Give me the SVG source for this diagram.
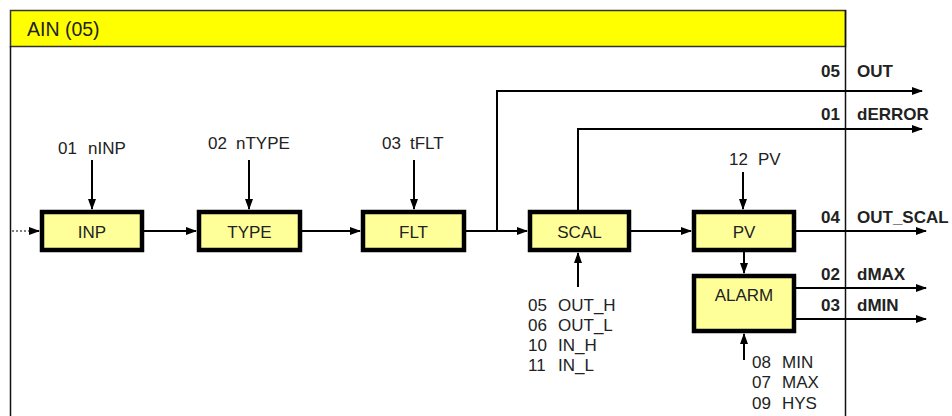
<svg xmlns="http://www.w3.org/2000/svg" width="952" height="416" viewBox="0 0 952 416">
<defs>
<marker id="ah" markerWidth="11" markerHeight="8" refX="10" refY="4" orient="auto" markerUnits="userSpaceOnUse">
<path d="M0,0 L11,4 L0,8 z" fill="#000"/>
</marker>
<style>
.t{font-family:"Liberation Sans",Arial,sans-serif;font-size:17px;fill:#222}
.b{font-family:"Liberation Sans",Arial,sans-serif;font-size:17px;font-weight:bold;fill:#222}
.c{text-anchor:middle}
.e{text-anchor:end}
.box{fill:#FFFF99;stroke:#000;stroke-width:4.5}
.ln{fill:none;stroke:#000;stroke-width:2}
.ar{fill:none;stroke:#000;stroke-width:2;marker-end:url(#ah)}
.th{fill:none;stroke:#111;stroke-width:1.5}
</style>
</defs>
<rect x="0" y="0" width="952" height="416" fill="#fff"/>
<g id="frame">
<rect x="10.5" y="10.5" width="835" height="36" fill="#FFFF00" stroke="#333" stroke-width="1.5"/>
<path class="th" d="M10.5,46 V416 M845.5,10 V416"/>
<text class="t" x="27" y="36" style="font-size:19.5px">AIN (05)</text>
</g>
<g id="connectors">
<path d="M12,231 H32" fill="none" stroke="#555" stroke-width="1.5" stroke-dasharray="2,2"/>
<path d="M30,231 H39" class="ar"/>
<path class="ar" d="M92,160 V209"/>
<path class="ar" d="M249,160 V209"/>
<path class="ar" d="M414,160 V209"/>
<path class="ar" d="M743,172 V209"/>
<path class="ar" d="M144,231 H196"/>
<path class="ar" d="M302,231 H360"/>
<path class="ar" d="M466,231 H527"/>
<path class="ar" d="M497,231 V91 H922"/>
<path class="ar" d="M578,210 V129 H922"/>
<path class="ar" d="M631,231 H691"/>
<path class="ar" d="M796,231 H926"/>
<path class="ar" d="M744,252 V273"/>
<path class="ar" d="M796,288 H926"/>
<path class="ar" d="M796,319 H926"/>
<path class="ar" d="M578,287 V253"/>
<path class="ar" d="M744,360 V334"/>
</g>
<g id="inp">
<rect class="box" x="42" y="212" width="100" height="38"/>
<text class="t c" x="92" y="238">INP</text>
<text class="t"><tspan x="58" y="154">01</tspan><tspan x="88" y="154">nINP</tspan></text>
</g>
<g id="type">
<rect class="box" x="199" y="212" width="101" height="38"/>
<text class="t c" x="249.5" y="238">TYPE</text>
<text class="t"><tspan x="208" y="149">02</tspan><tspan x="236" y="149">nTYPE</tspan></text>
</g>
<g id="flt">
<rect class="box" x="363" y="212" width="101" height="38"/>
<text class="t c" x="413.5" y="238">FLT</text>
<text class="t"><tspan x="382" y="149">03</tspan><tspan x="410" y="149">tFLT</tspan></text>
</g>
<g id="scal">
<rect class="box" x="530" y="212" width="99" height="38"/>
<text class="t c" x="579.5" y="238">SCAL</text>
<text class="t"><tspan x="528" y="311">05</tspan><tspan x="558" y="311">OUT_H</tspan><tspan x="528" y="331">06</tspan><tspan x="558" y="331">OUT_L</tspan><tspan x="528" y="351">10</tspan><tspan x="558" y="351">IN_H</tspan><tspan x="528" y="371">11</tspan><tspan x="558" y="371">IN_L</tspan></text>
</g>
<g id="pv">
<rect class="box" x="694" y="212" width="100" height="38"/>
<text class="t c" x="744" y="238">PV</text>
<text class="t"><tspan x="729" y="165">12</tspan><tspan x="758" y="165">PV</tspan></text>
</g>
<g id="alarm">
<rect class="box" x="694" y="276" width="100" height="55"/>
<text class="t c" x="744" y="301">ALARM</text>
<text class="t"><tspan x="752" y="368">08</tspan><tspan x="782" y="368">MIN</tspan><tspan x="752" y="388">07</tspan><tspan x="782" y="388">MAX</tspan><tspan x="752" y="409">09</tspan><tspan x="782" y="409">HYS</tspan></text>
</g>
<g id="outputs">
<text class="b e" x="840" y="77">05</text><text class="b" x="857" y="77">OUT</text>
<text class="b e" x="840" y="120">01</text><text class="b" x="857" y="120">dERROR</text>
<text class="b e" x="840" y="223">04</text><text class="b" x="857" y="223">OUT_SCAL</text>
<text class="b e" x="840" y="280">02</text><text class="b" x="857" y="280">dMAX</text>
<text class="b e" x="840" y="311">03</text><text class="b" x="857" y="311">dMIN</text>
</g>
</svg>
